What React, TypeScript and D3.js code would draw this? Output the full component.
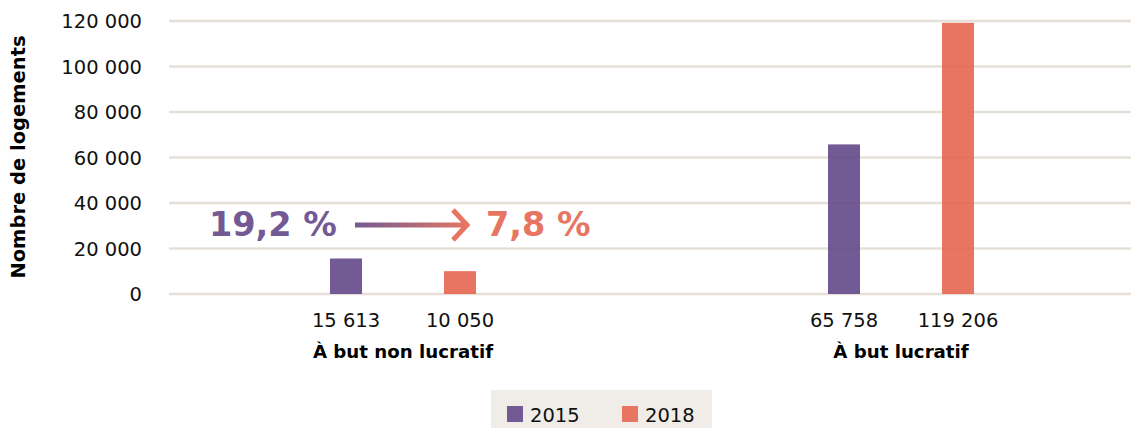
import * as d3 from "d3";

const categories = ["À but non lucratif", "À but lucratif"];
const years = ["2015", "2018"];
const values2015 = [15613, 65758];
const values2018 = [10050, 119206];
const yTicks = [0, 20000, 40000, 60000, 80000, 100000, 120000];
const shareFrom = "19,2 %";
const shareTo = "7,8 %";

const COLORS = ["#735a94", "#e87562"];
const BAR_FILL = ["#63488a", "#e56651"];
const WIDTH = 1131;
const HEIGHT = 428;
const FONT = "Verdana, 'DejaVu Sans', sans-serif";

const fmt = (v: number) => d3.format(",")(v).replace(/,/g, " ");

export default function App() {
  const y = d3.scaleLinear().domain([0, 120000]).range([294, 21]);
  const x0 = d3.scaleBand().domain(categories).range([154, 1150]);
  const x1 = d3.scaleBand().domain(years).range([135, 363]);
  const barW = 32;
  const series = [values2015, values2018];

  return (
    <svg width={WIDTH} height={HEIGHT} style={{ position: "absolute", left: 0, top: 0, background: "#fff" }} fontFamily={FONT}>
      <defs>
        <linearGradient id="arrowGrad" gradientUnits="userSpaceOnUse" x1={355} x2={470} y1={0} y2={0}>
          <stop offset="0%" stopColor={COLORS[0]} />
          <stop offset="100%" stopColor={COLORS[1]} />
        </linearGradient>
      </defs>

      {/* gridlines + y ticks */}
      {yTicks.map((t) => (
        <g key={t}>
          <line x1={169} x2={1131} y1={y(t)} y2={y(t)} stroke="#e6e0d8" strokeWidth={2.5} />
          <text x={142} y={y(t) + 7} textAnchor="end" fontSize={19.5} fill="#111">
            {fmt(t)}
          </text>
        </g>
      ))}

      {/* bars */}
      {categories.map((c, ci) =>
        years.map((yr, si) => {
          const cx = x0(c)! + x1(yr)! + x1.bandwidth() / 2;
          const v = series[si][ci];
          return (
            <g key={c + yr}>
              <rect x={cx - barW / 2} y={y(v)} width={barW} height={y(0) - y(v)} fill={BAR_FILL[si]} fillOpacity={0.9} />
              <text x={cx} y={327} textAnchor="middle" fontSize={19.5} fill="#111">
                {fmt(v)}
              </text>
            </g>
          );
        })
      )}

      {/* category labels */}
      {categories.map((c) => (
        <text key={c} x={x0(c)! + x0.bandwidth() / 2} y={358} textAnchor="middle" fontSize={18.2} fontWeight="bold" fill="#000">
          {c}
        </text>
      ))}

      {/* y title */}
      <text transform="translate(25,157) rotate(-90)" textAnchor="middle" fontSize={19.5} fontWeight="bold" fill="#000">
        Nombre de logements
      </text>

      {/* annotation */}
      <text x={209} y={236} fontSize={33.5} fontWeight="bold" fill={COLORS[0]}>
        {shareFrom}
      </text>
      <path d="M355,225 L466,225" stroke="url(#arrowGrad)" strokeWidth={5} fill="none" />
      <path d="M453,210 L467,225 L453,240" stroke={COLORS[1]} strokeWidth={5} fill="none" />
      <text x={486} y={236} fontSize={33.5} fontWeight="bold" fill={COLORS[1]}>
        {shareTo}
      </text>

      {/* legend */}
      <rect x={491} y={390} width={221} height={38} fill="#f0ede8" />
      {years.map((yr, i) => (
        <g key={yr} transform={`translate(${507 + i * 115},406)`}>
          <rect width={16} height={16} fill={COLORS[i]} />
          <text x={23} y={16} fontSize={19.5} fill="#111">
            {yr}
          </text>
        </g>
      ))}
    </svg>
  );
}
